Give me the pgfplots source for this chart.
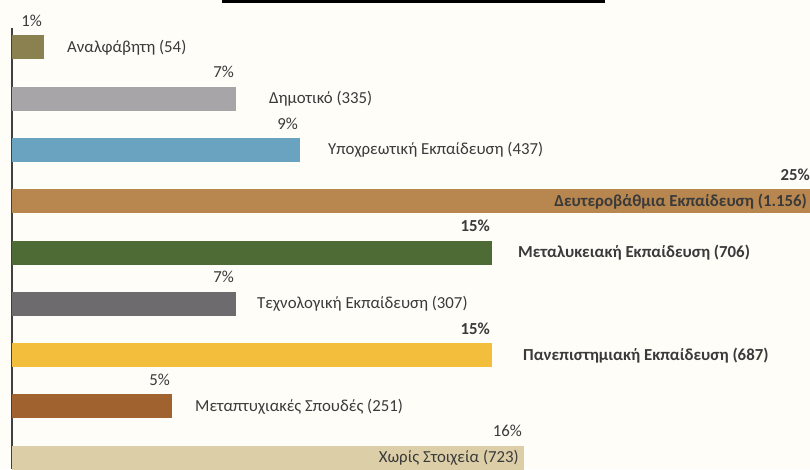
\documentclass[border=0pt]{standalone}
\usepackage{pgfplots}
\pgfplotsset{compat=1.18}
\usepackage{fontspec}
\setmainfont{Carlito}
\definecolor{bgc}{HTML}{FEFDF8}
\definecolor{c1}{HTML}{8A8050}
\definecolor{c2}{HTML}{A8A5A8}
\definecolor{c3}{HTML}{6AA3C0}
\definecolor{c4}{HTML}{B8874F}
\definecolor{c5}{HTML}{4F6B35}
\definecolor{c6}{HTML}{6D6B6E}
\definecolor{c7}{HTML}{F3BE3B}
\definecolor{c8}{HTML}{A0622E}
\definecolor{c9}{HTML}{DCCFA8}
\definecolor{txt}{HTML}{3A3A3A}
\tikzset{lab/.style={font=\fontsize{16.8}{18}\selectfont, text=txt, inner sep=0pt}}
\begin{document}
\begin{tikzpicture}[x=1pt,y=1pt]
\fill[bgc] (0,0) rectangle (810,469);
\fill[black] (222,466) rectangle (605,469);
\begin{axis}[
  at={(12pt,0pt)}, anchor=south west,
  scale only axis, width=800pt, height=441pt,
  xmin=0, xmax=25, ymin=-0.38, ymax=8.22,
  y dir=reverse,
  hide x axis,
  axis y line*=left,
  y axis line style={-, draw=black!75, line width=1.3pt},
  ytick=\empty,
  xbar, bar width=24pt,
  clip=false,
  /pgf/number format/assume math mode=true,
  nodes near coords={\pgfmathprintnumber{\pgfplotspointmeta}\%},
  point meta=x,
  every node near coord/.style={lab, anchor=base east, yshift=21pt, xshift=-2pt},
]
\addplot[bar shift=0pt, fill=c1, draw=none] coordinates {(1,0)};
\addplot[bar shift=0pt, fill=c2, draw=none] coordinates {(7,1)};
\addplot[bar shift=0pt, fill=c3, draw=none] coordinates {(9,2)};
\addplot[bar shift=0pt, fill=c4, draw=none, every node near coord/.append style={font=\fontsize{16.8}{18}\selectfont\bfseries}] coordinates {(25,3)};
\addplot[bar shift=0pt, fill=c5, draw=none, every node near coord/.append style={font=\fontsize{16.8}{18}\selectfont\bfseries}] coordinates {(15,4)};
\addplot[bar shift=0pt, fill=c6, draw=none] coordinates {(7,5)};
\addplot[bar shift=0pt, fill=c7, draw=none, every node near coord/.append style={font=\fontsize{16.8}{18}\selectfont\bfseries}] coordinates {(15,6)};
\addplot[bar shift=0pt, fill=c8, draw=none] coordinates {(5,7)};
\addplot[bar shift=0pt, fill=c9, draw=none] coordinates {(16,8)};
\node[lab, anchor=west, xshift=23pt] at (axis cs:1,0) {Αναλφάβητη (54)};
\node[lab, anchor=west, xshift=33pt] at (axis cs:7,1) {Δημοτικό (335)};
\node[lab, anchor=west, xshift=28pt] at (axis cs:9,2) {Υποχρεωτική Εκπαίδευση (437)};
\node[lab, anchor=east, xshift=-5pt] at (axis cs:25,3) {\bfseries Δευτεροβάθμια Εκπαίδευση (1.156)};
\node[lab, anchor=west, xshift=26pt] at (axis cs:15,4) {\bfseries Μεταλυκειακή Εκπαίδευση (706)};
\node[lab, anchor=west, xshift=21pt] at (axis cs:7,5) {Τεχνολογική Εκπαίδευση (307)};
\node[lab, anchor=west, xshift=31pt] at (axis cs:15,6) {\bfseries Πανεπιστημιακή Εκπαίδευση (687)};
\node[lab, anchor=west, xshift=23pt] at (axis cs:5,7) {Μεταπτυχιακές Σπουδές (251)};
\node[lab, anchor=east, xshift=-5pt] at (axis cs:16,8) {Χωρίς Στοιχεία (723)};
\end{axis}
\pgfresetboundingbox
\path (0,0) rectangle (810,469);
\end{tikzpicture}
\end{document}
